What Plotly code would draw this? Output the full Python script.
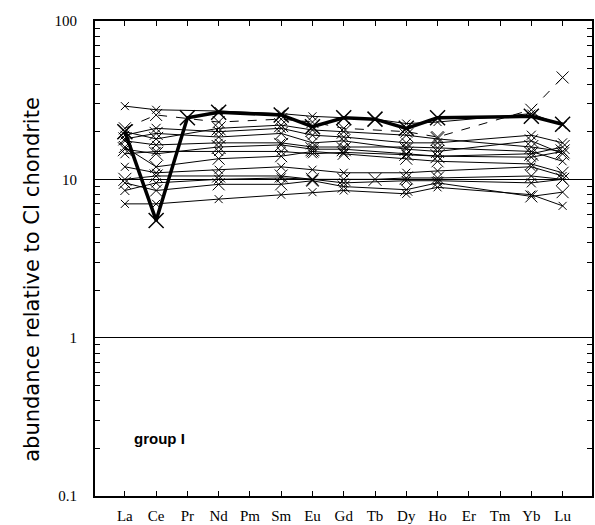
import plotly.graph_objects as go

# Rare earth elements along the x axis
elements = ["La", "Ce", "Pr", "Nd", "Pm", "Sm", "Eu", "Gd", "Tb", "Dy", "Ho", "Er", "Tm", "Yb", "Lu"]

# CI-chondrite normalised abundances, group I samples (None = not measured)
s01 = [29, 27.5, None, 27, None, 26, 25, 24.5, 24, 22.5, 23, None, None, 26, 22]
s02 = [21, 25.5, None, 23, None, 24, 23, 21, None, 20, 18.5, None, None, 27.5, 44]
s03 = [20, 18, None, 21, None, 22, 20.5, 20, None, 19, 18, None, None, 16, 15]
s04 = [19, 21, None, 20, None, 21, 19, 18.5, None, 17, 17, None, None, 19, 17]
s05 = [18, 19.5, None, 18.5, None, 19.5, 17, 17.5, None, 15.5, 15, None, None, 17.5, 14.5]
s06 = [17.5, 16.5, None, 17, None, 17, 16, 16, None, 16, 15.8, None, None, 15, 13]
s07 = [15.5, 14.5, None, 16, None, 16.5, 15.5, 15.5, None, 14.5, 14, None, None, 14.5, 16]
s08 = [14.5, 15, None, 15, None, 15, 14.5, 14.8, None, 14.3, 14, None, None, 13.8, 15]
s09 = [16, 12, None, 13.5, None, 14, 15, 14.5, None, 13.5, 13, None, None, 12.5, 11]
s10 = [12, 11, None, 11.5, None, 12, 11.5, 11, None, 11, 11.3, None, None, 12, 10.5]
s11 = [10, 10.5, None, 10.5, None, 10.5, 10, 10, 10, 10.2, 10.2, None, None, 10.5, 10]
s12 = [8.5, 9.5, None, 10, None, 10.2, 10, 9.5, None, 9.8, 9.8, None, None, 9.5, 10]
s13 = [9.5, 8.5, None, 9.3, None, 9.3, 9.8, 9, None, 8.6, 9.5, None, None, 7.8, 8.3]
s14 = [7, 7, None, 7.5, None, 8, 8.3, 8.5, None, 8.1, 8.9, None, None, 8.0, 6.8]
# Highlighted sample with the strong negative Ce anomaly
bold = [20, 5.5, 24.5, 26.5, None, 25.5, 21.5, 24.5, 24, 21, 24.5, None, None, 25, 22.3]

thin_series = [s01, s02, s03, s04, s05, s06, s07, s08, s09, s10, s11, s12, s13, s14]
marker_sizes = [8, 12, 14, 9, 13, 8, 14, 9, 12, 8, 13, 9, 12, 8]

fig = go.Figure()

for i, vals in enumerate(thin_series):
    fig.add_trace(go.Scatter(
        x=elements, y=vals, mode="lines+markers", connectgaps=True,
        line=dict(color="black", width=1, dash="dash" if i == 1 else "solid"),
        marker=dict(symbol="x-thin", size=marker_sizes[i],
                    line=dict(color="black", width=1)),
        showlegend=False, hoverinfo="skip",
    ))

fig.add_trace(go.Scatter(
    x=elements, y=bold, mode="lines+markers", connectgaps=True,
    line=dict(color="black", width=3.5),
    marker=dict(symbol="x-thin", size=15, line=dict(color="black", width=1.5)),
    showlegend=False, hoverinfo="skip",
))

serif = "Liberation Serif, Times New Roman, serif"

fig.update_layout(
    width=595, height=525,
    margin=dict(l=95, r=1, t=21, b=28),
    paper_bgcolor="white", plot_bgcolor="white",
    annotations=[
        dict(text="group I", x=0.074, y=0.122, xref="paper", yref="paper",
             xanchor="left", yanchor="middle", showarrow=False,
             font=dict(family="Liberation Sans, Arial, sans-serif", size=15,
                       weight="bold", color="black")),
        dict(text="abundance relative to CI chondrite", textangle=-90,
             x=-0.126, y=0.456, xref="paper", yref="paper",
             xanchor="center", yanchor="middle", showarrow=False,
             font=dict(family="DejaVu Sans, Verdana, sans-serif", size=21, color="black")),
    ],
)

fig.update_xaxes(
    type="category", categoryorder="array", categoryarray=elements,
    range=[-0.955, 14.94],
    showline=True, linecolor="black", linewidth=2, mirror="ticks",
    ticks="inside", ticklen=5, tickwidth=1, tickcolor="black",
    showgrid=False, zeroline=False,
    tickfont=dict(family=serif, size=15, color="black"),
    ticklabelstandoff=5,
)

fig.update_yaxes(
    type="log", range=[-1, 2],
    tickvals=[0.1, 1, 10, 100], ticktext=["0.1", "1", "10", "100"],
    showline=True, linecolor="black", linewidth=2, mirror="ticks",
    ticks="inside", ticklen=6, tickwidth=1, tickcolor="black",
    minor=dict(ticks="inside", ticklen=5, tickwidth=1, tickcolor="black",
               dtick="D1", showgrid=False),
    showgrid=True, gridcolor="black", gridwidth=1,
    zeroline=False,
    tickfont=dict(family=serif, size=15, color="black"),
    ticklabelstandoff=13,
)

fig.write_html("out.html")
